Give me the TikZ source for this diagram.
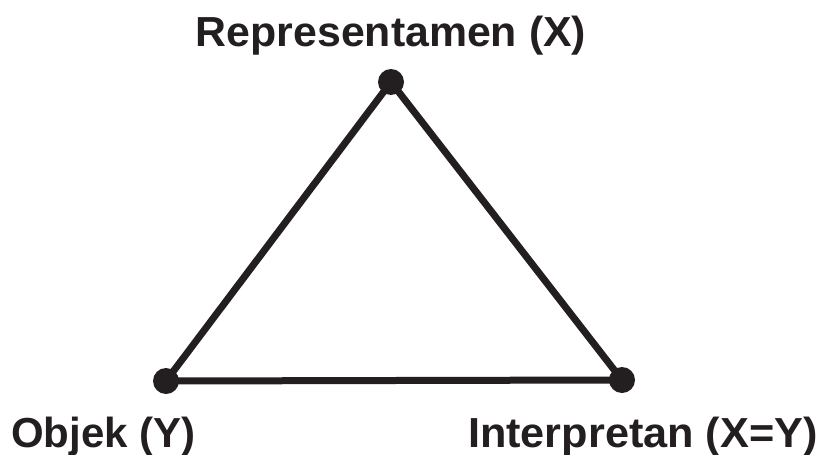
\documentclass[tikz,border=0pt]{standalone}
\usepackage{fontspec}
\setmainfont{Liberation Sans}
\definecolor{ink}{HTML}{231F20}
\begin{document}
\begin{tikzpicture}[x=1pt,y=-1pt,
  vertex/.style={circle,fill=ink,inner sep=0pt,minimum size=26pt},
  edge/.style={draw=ink,line width=7pt,line join=round},
  lab/.style={font=\fontsize{42}{48}\selectfont\bfseries,text=ink,inner sep=0pt}]
\useasboundingbox (0,0) rectangle (822,455);
\node[vertex] (r) at (391,82) {};
\node[vertex] (o) at (166,381) {};
\node[vertex] (i) at (622,380) {};
\draw[edge] (r.center) -- (o.center) -- (i.center) -- cycle;
\node[lab,anchor=base] (rl) at (391,46) {\scalebox{1.02}[1]{Representamen (X)}};
\node[lab,anchor=base west] (ol) at (11,447) {Objek (Y)};
\node[lab,anchor=base east] (il) at (818,447) {\scalebox{1.03}[1]{Interpretan (X=Y)}};
\end{tikzpicture}
\end{document}
